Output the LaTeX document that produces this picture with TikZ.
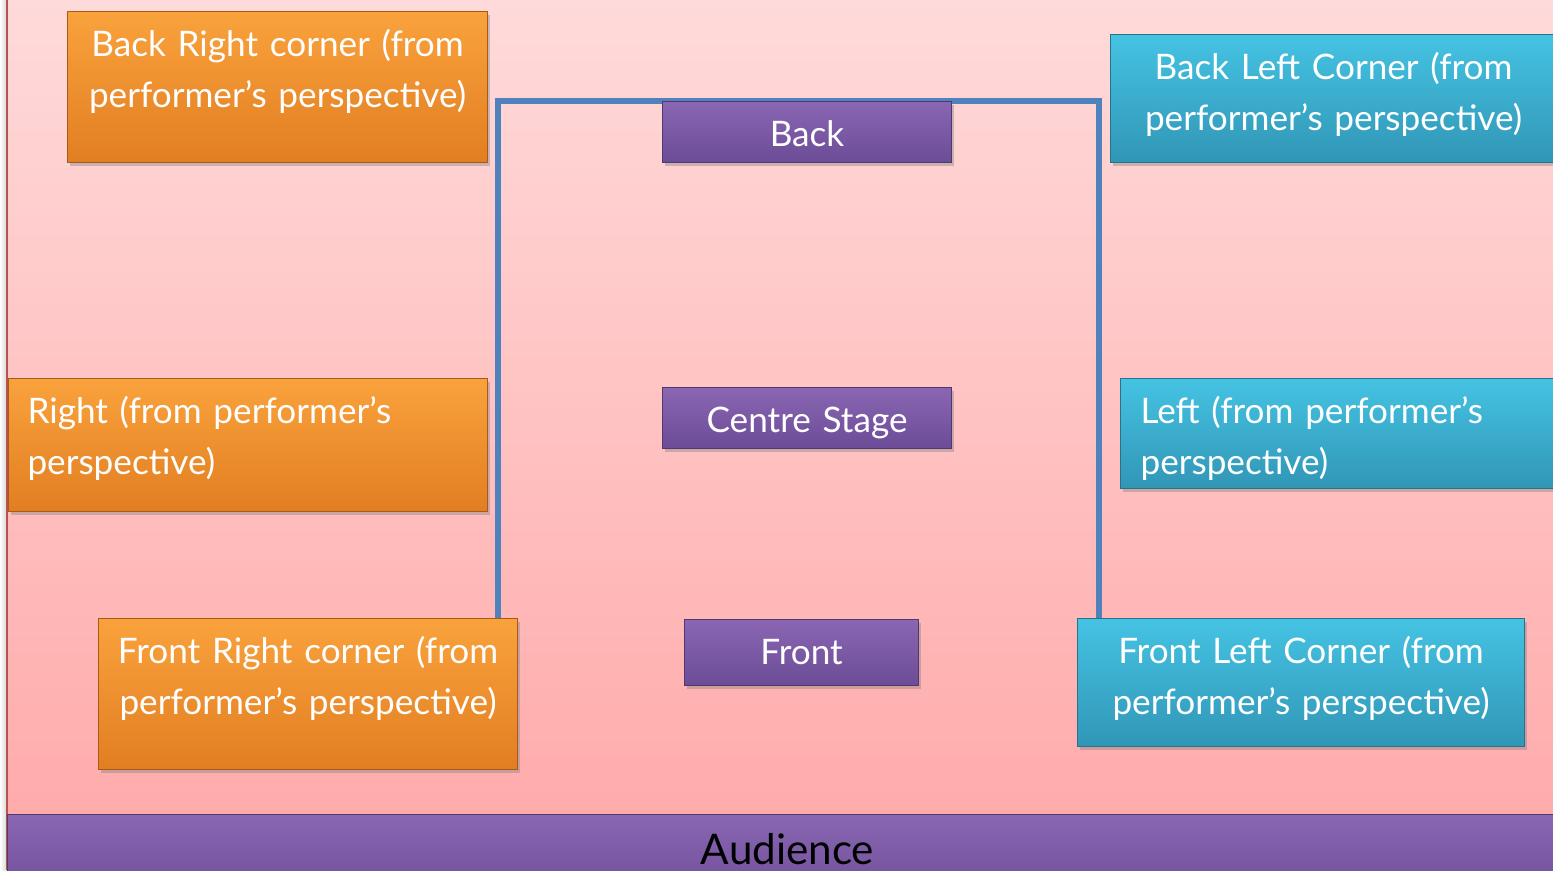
\documentclass[tikz,border=0pt]{standalone}
\usepackage{fontspec}
\setmainfont{Lato}
\usetikzlibrary{calc,shadows,backgrounds}

\definecolor{pinktop}{HTML}{FFDADA}
\definecolor{pinkbot}{HTML}{FFA8A8}
\definecolor{orangetop}{HTML}{F9A23C}
\definecolor{orangebot}{HTML}{E27E22}
\definecolor{orangeedge}{HTML}{A85A18}
\definecolor{tealtop}{HTML}{45C3E3}
\definecolor{tealbot}{HTML}{3196B6}
\definecolor{tealedge}{HTML}{26738C}
\definecolor{purpletop}{HTML}{8A66B3}
\definecolor{purplebot}{HTML}{6C4C96}
\definecolor{purpleedge}{HTML}{4F3A70}
\definecolor{wallblue}{HTML}{4F81BD}
\definecolor{slideedge}{HTML}{B85450}

\begin{document}
\begin{tikzpicture}[
stagebox/.style={
rectangle,
anchor=north west,
inner xsep=0cm,
inner ysep=0cm,
align=center,
text=white,
text height=0.9cm,
font=\fontsize{20pt}{28.9pt}\selectfont,
line width=0.6pt,
drop shadow={shadow xshift=0.04cm, shadow yshift=-0.07cm, opacity=0.4}
},
orangebox/.style={
stagebox,
draw=orangeedge,
top color=orangetop,
bottom color=orangebot
},
tealbox/.style={
stagebox,
draw=tealedge,
top color=tealtop,
bottom color=tealbot
},
purplebox/.style={
stagebox,
draw=purpleedge,
top color=purpletop,
bottom color=purplebot
},
wall/.style={line width=0.12cm, wallblue}
]

\useasboundingbox (0,0) rectangle (31.06,-17.4);
\clip (0,0) rectangle (31.06,-17.4);

% back row
\node[orangebox, minimum width=8.4cm, minimum height=3.02cm, text width=8cm, text depth=2.12cm] (backright) at (1.34,-0.22) {Back Right corner (from\\performer’s perspective)};
\node[purplebox, minimum width=5.78cm, minimum height=1.22cm, text width=5.4cm, text depth=0.32cm] (back) at (13.24,-2.02) {Back};
\node[tealbox, minimum width=8.92cm, minimum height=2.56cm, text width=8.5cm, text depth=1.66cm] (backleft) at (22.2,-0.68) {Back Left Corner (from\\performer’s perspective)};

% middle row
\node[orangebox, align=left, inner xsep=0.38cm, minimum width=9.58cm, minimum height=2.66cm, text width=8.82cm, text depth=1.76cm] (rightside) at (0.16,-7.56) {Right (from performer’s\\perspective)};
\node[purplebox, minimum width=5.78cm, minimum height=1.22cm, text width=5.4cm, text depth=0.32cm] (centre) at (13.24,-7.74) {Centre Stage};
\node[tealbox, align=left, inner xsep=0.4cm, minimum width=8.8cm, minimum height=2.2cm, text width=8cm, text depth=1.3cm] (leftside) at (22.4,-7.56) {Left (from performer’s\\perspective)};

% front row
\node[orangebox, minimum width=8.38cm, minimum height=3.02cm, text width=8cm, text depth=2.12cm] (frontright) at (1.96,-12.36) {Front Right corner (from\\performer’s perspective)};
\node[purplebox, minimum width=4.68cm, minimum height=1.32cm, text width=4.3cm, text depth=0.42cm] (front) at (13.68,-12.38) {Front};
\node[tealbox, minimum width=8.94cm, minimum height=2.56cm, text width=8.5cm, text depth=1.66cm] (frontleft) at (21.54,-12.36) {Front Left Corner (from\\performer’s perspective)};

\node[purplebox, text=black, font=\fontsize{24pt}{28pt}\selectfont, minimum width=31.2cm, minimum height=1.8cm, text width=30cm, text height=1.0cm, text depth=0.8cm] (audience) at (0.14,-16.28) {Audience};

\coordinate (wallL) at ($(frontright.north east)+(-0.4,0)$);
\coordinate (wallR) at ($(frontleft.north west)+(0.44,0)$);

\begin{scope}[on background layer]
\fill[left color=white, right color=gray!30] (0,0) rectangle (0.13,-17.4);
\shade[top color=pinktop, bottom color=pinkbot] (0.13,0) rectangle (31.06,-17.4);
\draw[slideedge, line width=0.04cm] (0.13,0) -- (0.13,-17.4);
\draw[wall] (wallL) -- (wallL |- back.north) -- (wallR |- back.north) -- (wallR);
\end{scope}

\end{tikzpicture}
\end{document}
